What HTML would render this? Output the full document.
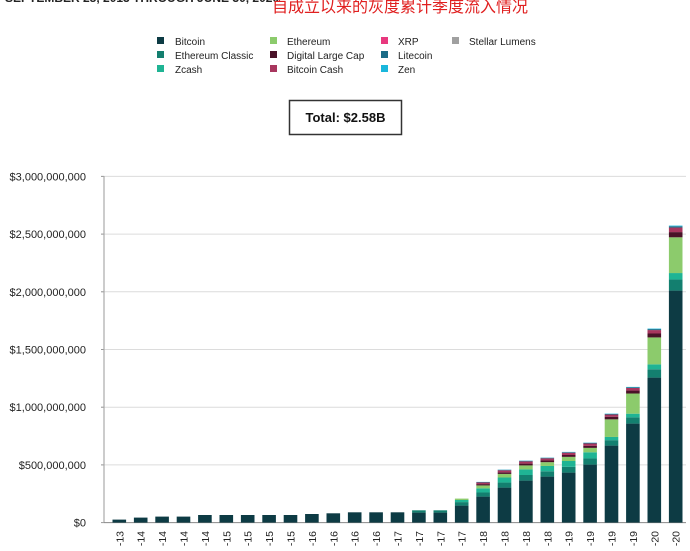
<!DOCTYPE html>
<html><head><meta charset="utf-8"><style>
body{margin:0;background:#fff;width:690px;height:546px;overflow:hidden;font-family:"Liberation Sans","Noto Sans CJK SC",sans-serif;}
</style></head><body>
<svg id="s" width="690" height="546" xmlns="http://www.w3.org/2000/svg" font-family="Liberation Sans, Noto Sans CJK SC, sans-serif">
<text x="5" y="2" font-size="12" font-weight="bold" fill="#222">SEPTEMBER 25, 2013 THROUGH JUNE 30, 2020</text>
<text x="272" y="12" font-size="16" fill="#e02020" font-family="Noto Sans CJK SC, sans-serif">自成立以来的灰度累计季度流入情况</text>
<g font-size="10" fill="#222">
<rect x="157" y="37" width="7" height="7" fill="#0d3b44"/><text x="175" y="45">Bitcoin</text>
<rect x="157" y="51" width="7" height="7" fill="#137f6f"/><text x="175" y="59">Ethereum Classic</text>
<rect x="157" y="65" width="7" height="7" fill="#1fb494"/><text x="175" y="73">Zcash</text>
<rect x="270" y="37" width="7" height="7" fill="#8ccb6c"/><text x="287" y="45">Ethereum</text>
<rect x="270" y="51" width="7" height="7" fill="#4a1228"/><text x="287" y="59">Digital Large Cap</text>
<rect x="270" y="65" width="7" height="7" fill="#a8365e"/><text x="287" y="73">Bitcoin Cash</text>
<rect x="381" y="37" width="7" height="7" fill="#e8387e"/><text x="398" y="45">XRP</text>
<rect x="381" y="51" width="7" height="7" fill="#1b6c87"/><text x="398" y="59">Litecoin</text>
<rect x="381" y="65" width="7" height="7" fill="#1ab7dc"/><text x="398" y="73">Zen</text>
<rect x="452" y="37" width="7" height="7" fill="#a0a0a0"/><text x="469" y="45">Stellar Lumens</text>
</g>
<rect x="289.5" y="100.5" width="112" height="34" fill="#fff" stroke="#333" stroke-width="1.5"/>
<text x="345.5" y="122" font-size="13" font-weight="bold" text-anchor="middle" fill="#111">Total: $2.58B</text>
<g id="grid"></g>
<g id="bars"></g>
</svg>
<script>
var s=document.getElementById('grid'),b=document.getElementById('bars'),NS='http://www.w3.org/2000/svg';
function el(p,t,a,txt){var e=document.createElementNS(NS,t);for(var k in a)e.setAttribute(k,a[k]);if(txt)e.textContent=txt;p.appendChild(e);return e;}
var base=522.6,per=57.7;
var labs=['$0','$500,000,000','$1,000,000,000','$1,500,000,000','$2,000,000,000','$2,500,000,000','$3,000,000,000'];
for(var i=0;i<7;i++){var y=base-i*per;
 if(i>0)el(s,'line',{x1:101,x2:686,y1:y,y2:y,stroke:'#dcdcdc','stroke-width':1});
 el(s,'line',{x1:101,x2:104,y1:y,y2:y,stroke:'#999'});
 el(s,'text',{x:86,y:y+4,'font-size':11,'text-anchor':'end',fill:'#222'},labs[i]);}
el(s,'line',{x1:104,x2:104,y1:176,y2:base,stroke:'#aaa','stroke-width':1.2});
el(s,'line',{x1:104,x2:686,y1:base,y2:base,stroke:'#888','stroke-width':1});
var tot=[3,5,6,6,7.6,7.6,7.6,7.6,7.6,8.6,9.3,10.3,10.3,10.3,12.3,12.3,24,40.7,53,62,65,70.7,80,109,135.7,194,297];
var btc=[3,5,6,6,7.6,7.6,7.6,7.6,7.6,8.6,9.3,10.3,10.3,10.3,10,10,17,26,35,42,46,50,58,77,99,145,232];
var cols=['#137f6f','#1fb494','#8ccb6c','#4a1228','#a8365e','#1b6c87','#1ab7dc'];
var yrs=['13','14','14','14','14','15','15','15','15','16','16','16','16','17','17','17','17','18','18','18','18','19','19','19','19','20','20'];
for(var i=0;i<27;i++){
 var cx=119.3+i*21.4,x=cx-6.8,w=13.6,y=base;
 el(b,'rect',{x:x,y:base-btc[i],width:w,height:btc[i],fill:'#0d3b44'});
 y=base-btc[i];var r=tot[i]-btc[i];
 var f;
 if(i<16)f=[1,0,0,0,0,0,0];
 else if(i==16)f=[.5,.3,.2,0,0,0,0];
 else if(i<23)f=[.28,.28,.2,.09,.11,.03,.01];
 else f=[.17,.1,.55,.08,.07,.02,.01];
 for(var j=0;j<7;j++){var h=r*f[j];if(h<=0)continue;y-=h;el(b,'rect',{x:x,y:y,width:w,height:h,fill:cols[j]});}
 el(b,'text',{transform:'translate('+(cx+4)+',531) rotate(-90)','font-size':10.5,'text-anchor':'end',fill:'#222'},'Q'+((i+2)%4+1)+'-'+yrs[i]);
}
</script>
</body></html>
